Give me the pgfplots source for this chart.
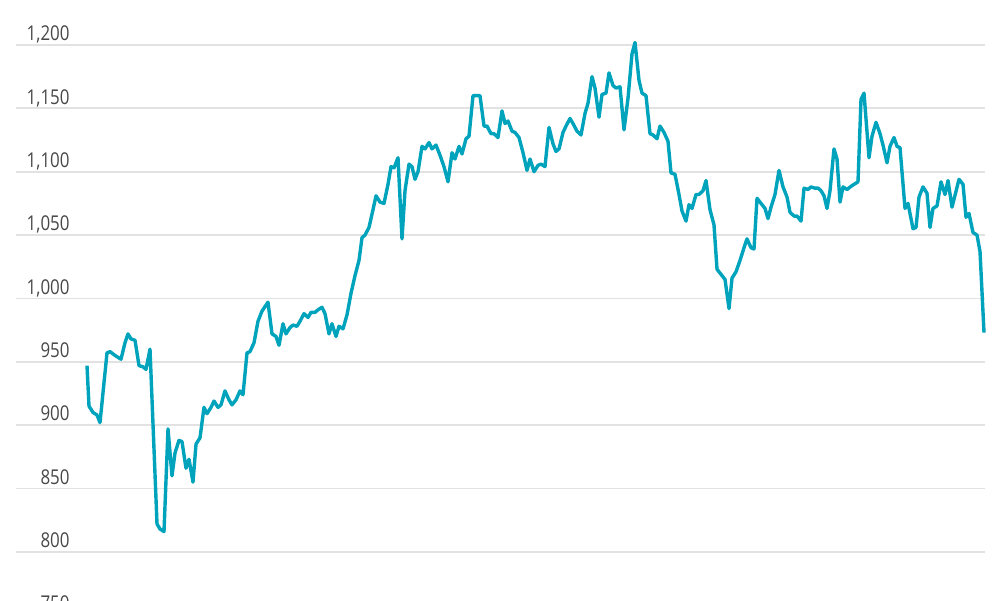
\documentclass[border=0pt]{standalone}
\usepackage{fontspec}
\setmainfont{Open Sans}[FakeStretch=0.83]
\usepackage{pgfplots}
\pgfplotsset{compat=1.18}
\definecolor{linecol}{RGB}{0,163,188}
\definecolor{gridcol}{RGB}{226,226,226}
\definecolor{labcol}{RGB}{72,72,72}

\begin{document}
\begin{tikzpicture}
\begin{axis}[
    scale only axis,
    width=500pt,
    height=300pt,
    xmin=0, xmax=1000,
    ymin=762, ymax=1235.5,
    axis lines=none,
    clip=false,
]
% horizontal rules
\pgfplotsinvokeforeach{750,800,...,1200}{
  \draw[gridcol, line width=0.9pt] (axis cs:16,#1) -- (axis cs:985,#1);
}
\addplot[linecol, line width=1.7pt, line join=round, mark=none] coordinates {
(87,947) (89,915) (93,910) (97,908) (100,902) (107,957) (110,958) (115,955)
(121,952) (125,965) (128,972) (131,968) (135,967) (139,947) (143,946) (146,944)
(150,960) (157,822) (160,818) (164,816) (168,897) (172,860) (175,878) (179,888)
(182,887) (186,866) (189,873) (193,855) (196,885) (200,890) (204,914) (207,909)
(211,914) (214,919) (218,914) (221,916) (225,927) (229,920) (232,916) (236,920)
(240,927) (243,924) (247,957) (250,958) (254,965) (258,982) (262,990) (268,997)
(272,972) (276,970) (279,963) (283,980) (286,972) (290,977) (293,979) (297,978)
(300,982) (304,988) (308,985) (311,989) (315,989) (318,991) (322,993) (325,988)
(329,972) (332,980) (336,970) (339,978) (343,976) (347,987) (351,1004) (355,1018)
(359,1030) (362,1048) (365,1050) (369,1056) (373,1070) (376,1081) (380,1076) (384,1075)
(388,1090) (391,1104) (394,1103) (398,1111) (402,1047) (405,1085) (409,1106) (412,1104)
(415,1094) (418,1100) (422,1120) (425,1118) (429,1123) (432,1118) (436,1121) (440,1113)
(444,1104) (448,1092) (452,1115) (455,1110) (459,1120) (462,1114) (466,1126) (469,1128)
(473,1160) (477,1160) (480,1160) (484,1136) (487,1136) (491,1130) (494,1130) (498,1127)
(502,1148) (505,1138) (508,1140) (512,1132) (515,1131) (519,1127) (523,1115) (527,1101)
(530,1110) (534,1100) (538,1105) (541,1106) (545,1104) (549,1135) (553,1122) (556,1116)
(559,1118) (563,1131) (566,1136) (570,1142) (573,1138) (577,1132) (581,1129) (585,1146)
(588,1154) (592,1175) (595,1166) (599,1143) (602,1161) (606,1162) (609,1178) (613,1168)
(616,1166) (620,1167) (624,1133) (628,1158) (632,1193) (635,1202) (639,1172) (642,1162)
(646,1160) (650,1130) (653,1129) (657,1126) (660,1136) (664,1131) (668,1124) (671,1099)
(675,1098) (679,1082) (682,1069) (686,1061) (689,1074) (692,1071) (696,1082) (699,1082)
(703,1085) (706,1093) (710,1070) (714,1058) (717,1023) (721,1019) (725,1015) (729,992)
(732,1016) (736,1021) (740,1030) (744,1040) (747,1047) (751,1040) (754,1039) (757,1079)
(761,1075) (765,1071) (768,1063) (771,1072) (775,1082) (779,1101) (783,1088) (787,1080)
(790,1068) (794,1065) (797,1065) (801,1061) (804,1087) (808,1086) (811,1088) (815,1087)
(818,1087) (821,1085) (824,1081) (827,1071) (830,1085) (834,1118) (837,1110) (840,1076)
(843,1088) (847,1086) (852,1089) (858,1092) (861,1157) (864,1162) (869,1111) (872,1128)
(876,1139) (880,1130) (883,1121) (887,1107) (890,1120) (894,1127) (897,1120) (900,1119)
(905,1071) (908,1075) (913,1055) (916,1056) (919,1080) (923,1088) (927,1083) (930,1056)
(933,1071) (937,1073) (941,1092) (945,1082) (948,1093) (952,1072) (959,1094) (963,1090)
(966,1064) (969,1067) (973,1052) (977,1050) (980,1037) (984,973)
};
% value labels above the rules (750 is cut by the lower edge, as in the original)
\pgfplotsinvokeforeach{750,800,850,900,950}{
  \node[anchor=base east, inner sep=0pt, text=labcol, font=\fontsize{10.2}{12}\selectfont]
    at (axis cs:70,#1+3.4) {#1};
}
\node[anchor=base east, inner sep=0pt, text=labcol, font=\fontsize{10.2}{12}\selectfont] at (axis cs:70,1003.4) {1,000};
\node[anchor=base east, inner sep=0pt, text=labcol, font=\fontsize{10.2}{12}\selectfont] at (axis cs:70,1053.4) {1,050};
\node[anchor=base east, inner sep=0pt, text=labcol, font=\fontsize{10.2}{12}\selectfont] at (axis cs:70,1103.4) {1,100};
\node[anchor=base east, inner sep=0pt, text=labcol, font=\fontsize{10.2}{12}\selectfont] at (axis cs:70,1153.4) {1,150};
\node[anchor=base east, inner sep=0pt, text=labcol, font=\fontsize{10.2}{12}\selectfont] at (axis cs:70,1203.4) {1,200};
\end{axis}
\pgfresetboundingbox
\useasboundingbox (current axis.south west) rectangle (current axis.north east);
\end{tikzpicture}
\end{document}
